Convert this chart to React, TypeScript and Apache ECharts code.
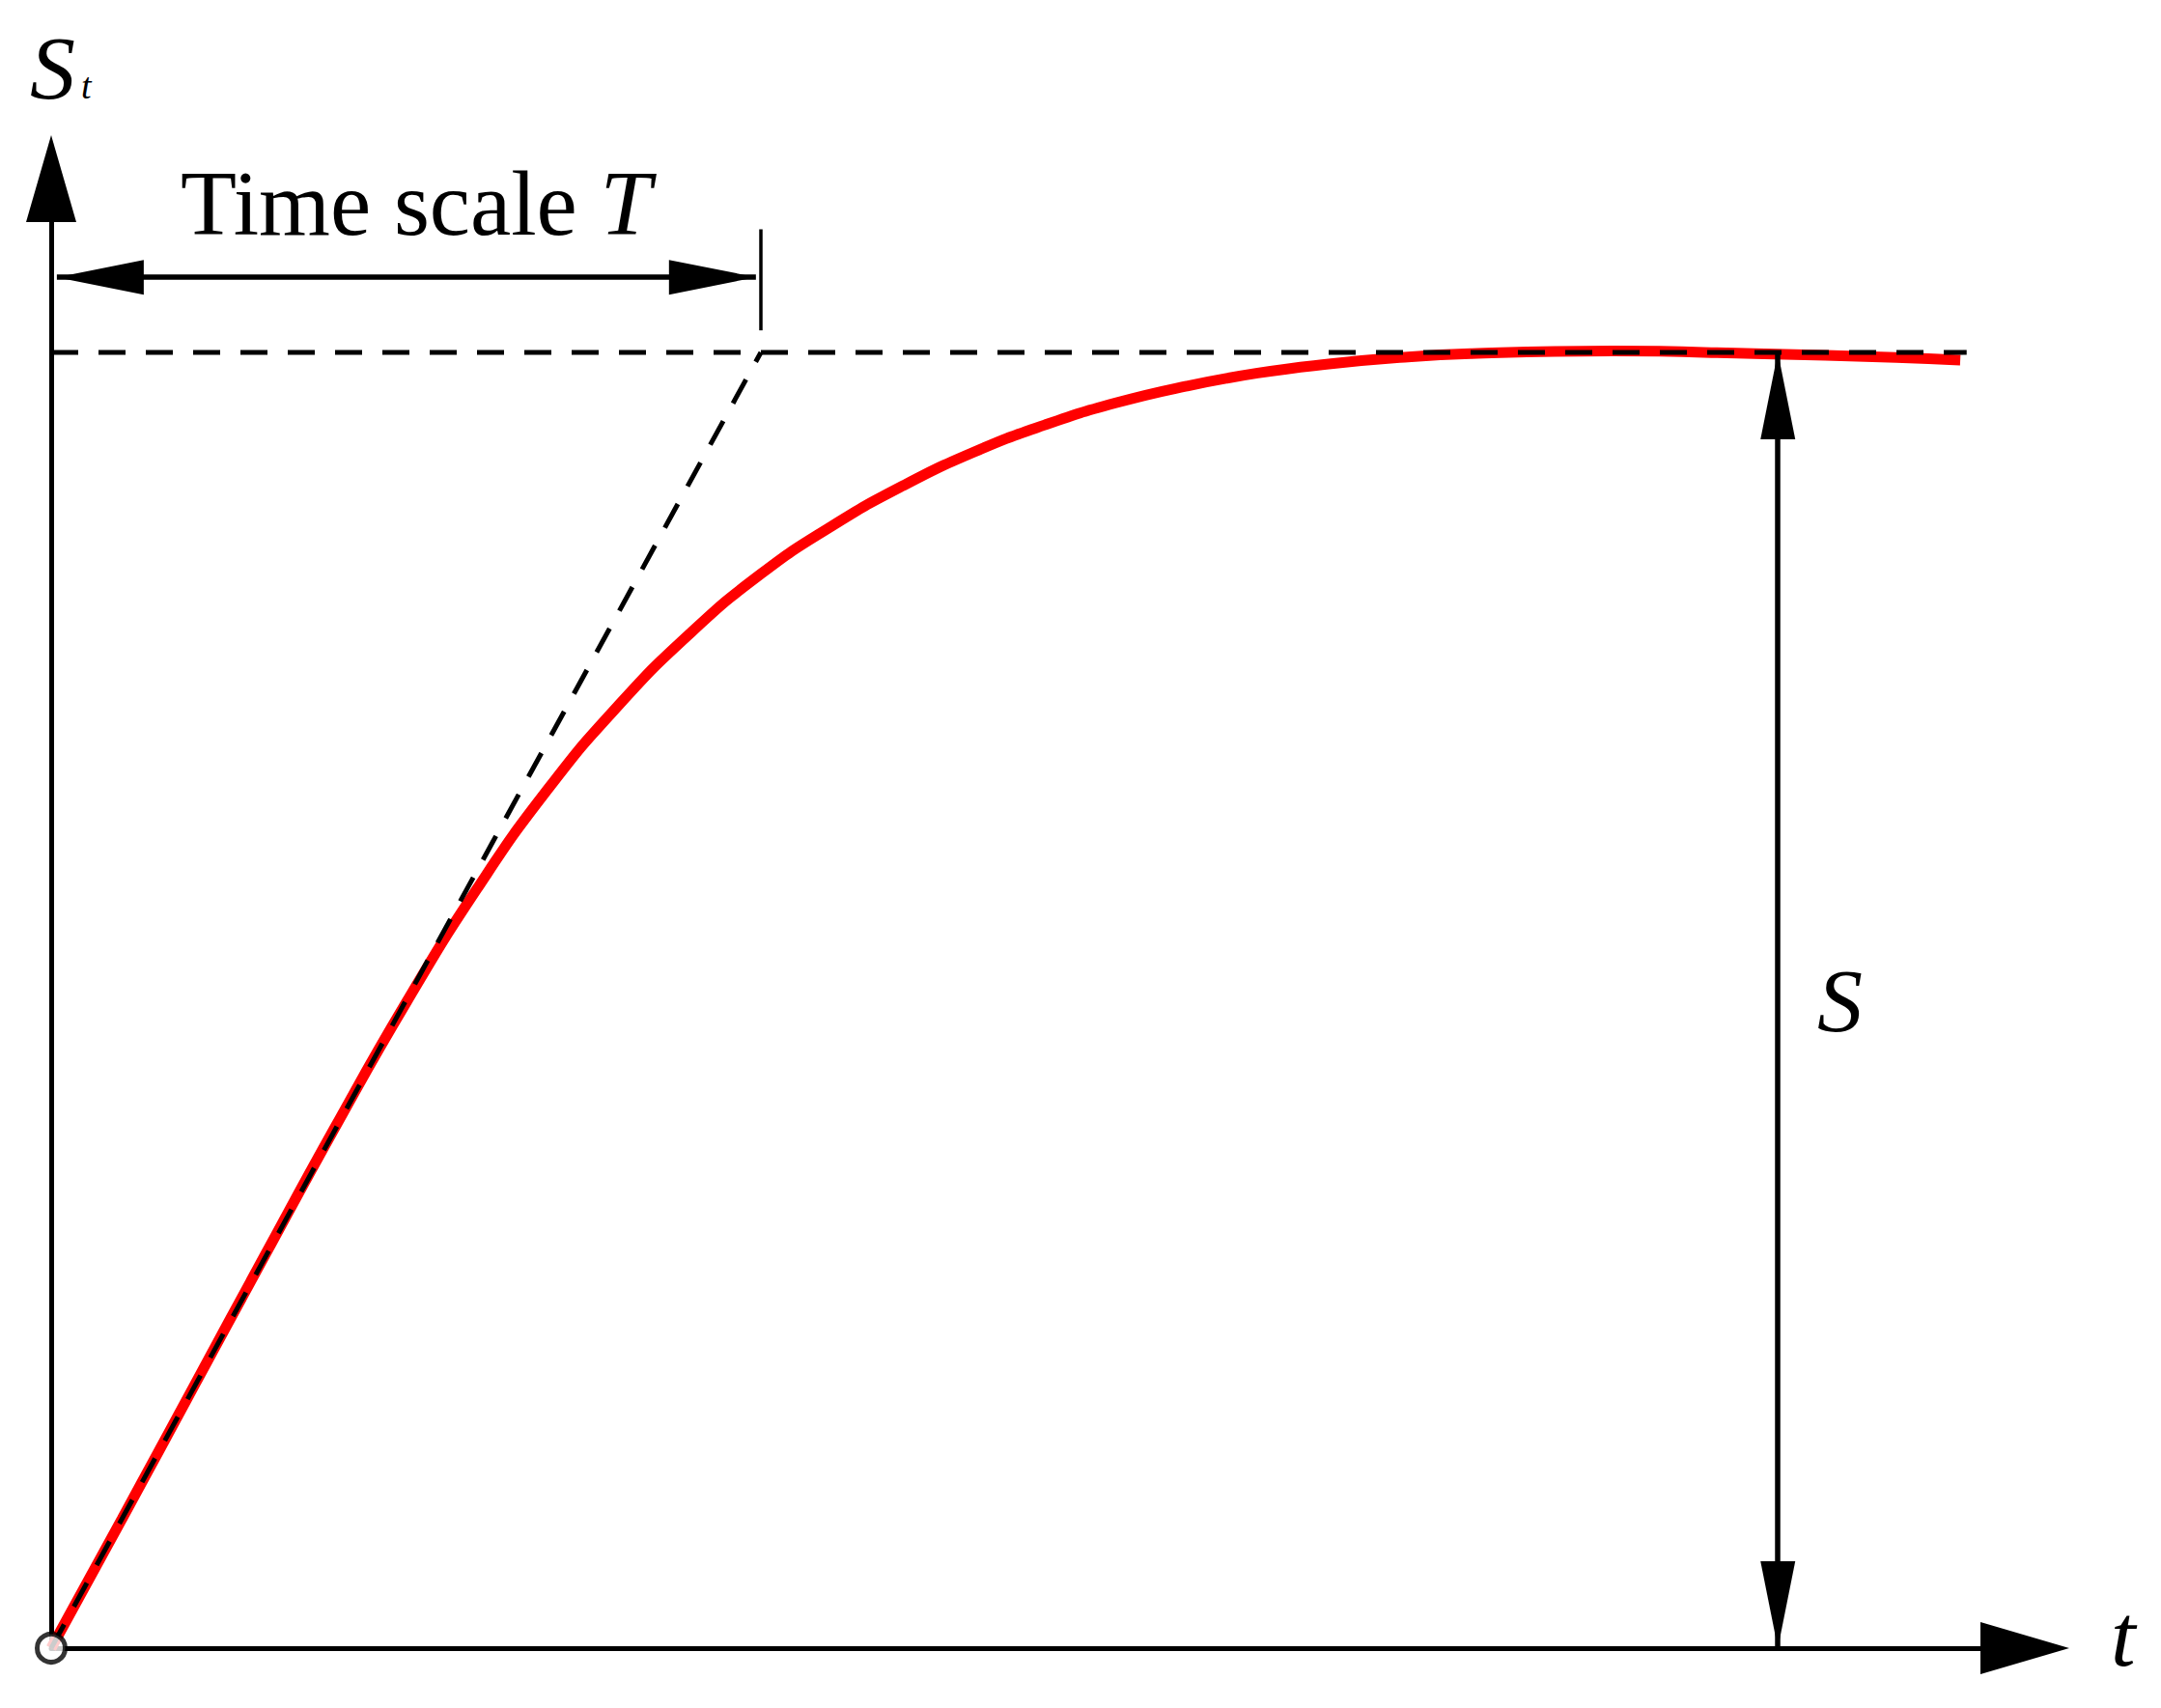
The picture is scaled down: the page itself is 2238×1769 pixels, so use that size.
import React, { useEffect, useRef } from "react";
import * as echarts from "echarts";

// Consolidation-type curve: time in units of the time scale T, value in units of the final value S
const timeValues = [0, 0.1, 0.2, 0.3, 0.4, 0.5, 0.6, 0.7, 0.8, 0.9, 1.0, 1.1, 1.2, 1.3, 1.4, 1.5, 1.6, 1.7, 1.8, 1.9, 2.0, 2.2, 2.4, 2.6, 2.69];
const curveValues = [0, 0.1, 0.201, 0.302, 0.402, 0.498, 0.586, 0.663, 0.728, 0.783, 0.829, 0.866, 0.897, 0.923, 0.944, 0.961, 0.974, 0.984, 0.991, 0.996, 0.999, 1.001, 0.999, 0.996, 0.994];

const timeScaleT = 1;
const finalValueS = 1;
const asymptoteEnd = 2.699;
const sArrowTime = 2.433;
const timeArrowLevel = 1.058;
const tickRange = [1.017, 1.095];
const timeArrowRange = [0.008, 0.993];
const xMax = 2.781;
const yMax = 1.1341;

const labelTimeScale = "Time scale ";
const labelT = "T";
const labelS = "S";
const labelSt = "S";
const labelSub = "t";
const labelX = "t";

export default function App() {
  const ref = useRef<HTMLDivElement>(null);
  useEffect(() => {
    const chart = echarts.init(ref.current!, null, { renderer: "svg" });
    const serif = '"Liberation Serif", "Times New Roman", serif';
    const mid = (baseline: number, size: number) => baseline - 0.3375 * size;
    const arrowEnd = (coord: number[]) => ({
      coord,
      symbol: "triangle",
      symbolSize: [36, 90],
      symbolOffset: [0, 45],
    });
    chart.setOption({
      animation: false,
      backgroundColor: "#ffffff",
      grid: { left: 53, right: 141, top: 185, bottom: 62, containLabel: false },
      xAxis: {
        type: "value",
        min: 0,
        max: xMax,
        axisLine: {
          show: true,
          onZero: false,
          lineStyle: { color: "#000", width: 5 },
          symbol: ["none", "triangle"],
          symbolSize: [54, 92],
        },
        axisTick: { show: false },
        axisLabel: { show: false },
        splitLine: { show: false },
      },
      yAxis: {
        type: "value",
        min: 0,
        max: yMax,
        axisLine: {
          show: true,
          onZero: false,
          lineStyle: { color: "#000", width: 5 },
          symbol: ["none", "triangle"],
          symbolSize: [52, 90],
        },
        axisTick: { show: false },
        axisLabel: { show: false },
        splitLine: { show: false },
      },
      series: [
        {
          type: "line",
          data: timeValues.map((t, i) => [t, curveValues[i]]),
          smooth: 0.5,
          showSymbol: false,
          symbol: "none",
          lineStyle: { color: "#ff0000", width: 11 },
          z: 2,
          silent: true,
        },
        {
          type: "line",
          data: [
            [0, 0],
            [timeScaleT, finalValueS],
          ],
          symbol: "none",
          lineStyle: { color: "#000", width: 5, type: [28, 21] },
          z: 3,
          silent: true,
          markLine: {
            silent: true,
            symbol: ["none", "none"],
            label: { show: false },
            lineStyle: { color: "#000", width: 3.5, type: "solid" },
            data: [[{ coord: [timeScaleT, tickRange[0]] }, { coord: [timeScaleT, tickRange[1]] }]],
          },
        },
        {
          type: "line",
          data: [
            [0, finalValueS],
            [asymptoteEnd, finalValueS],
          ],
          symbol: "none",
          lineStyle: { color: "#000", width: 5, type: [28, 21] },
          z: 3,
          silent: true,
          markLine: {
            silent: true,
            symbol: ["triangle", "triangle"],
            label: { show: false },
            lineStyle: { color: "#000", width: 5.5, type: "solid" },
            data: [
              [arrowEnd([timeArrowRange[0], timeArrowLevel]), arrowEnd([timeArrowRange[1], timeArrowLevel])],
              [arrowEnd([sArrowTime, 0]), arrowEnd([sArrowTime, finalValueS])],
            ],
          },
        },
        {
          type: "scatter",
          data: [[0, 0]],
          symbol: "circle",
          symbolSize: 29,
          itemStyle: { color: "#fff", borderColor: "#000", borderWidth: 5 },
          z: 5,
          silent: true,
        },
      ],
      graphic: [
        {
          type: "text",
          x: 31,
          y: mid(102, 94),
          style: {
            text: labelSt,
            fontFamily: serif,
            fontSize: 94,
            fontStyle: "italic",
            fill: "#000",
            align: "left",
            verticalAlign: "middle",
          },
        },
        {
          type: "text",
          x: 84,
          y: mid(102, 38),
          style: {
            text: labelSub,
            fontFamily: serif,
            fontSize: 38,
            fontStyle: "italic",
            fill: "#000",
            align: "left",
            verticalAlign: "middle",
          },
        },
        {
          type: "text",
          x: 187,
          y: mid(243, 95),
          style: {
            text: labelTimeScale + "{i|" + labelT + "}",
            fontFamily: serif,
            fontSize: 95,
            fill: "#000",
            align: "left",
            verticalAlign: "middle",
            rich: { i: { fontStyle: "italic", fontFamily: serif, fontSize: 95, fill: "#000" } },
          },
        },
        {
          type: "text",
          x: 1882,
          y: mid(1068, 94),
          style: {
            text: labelS,
            fontFamily: serif,
            fontSize: 94,
            fontStyle: "italic",
            fill: "#000",
            align: "left",
            verticalAlign: "middle",
          },
        },
        {
          type: "text",
          x: 2186,
          y: mid(1725, 92),
          style: {
            text: labelX,
            fontFamily: serif,
            fontSize: 92,
            fontStyle: "italic",
            fill: "#000",
            align: "left",
            verticalAlign: "middle",
          },
        },
      ],
    });
    return () => chart.dispose();
  }, []);
  return (
    <div
      ref={ref}
      style={{ position: "absolute", left: 0, top: 0, width: 2238, height: 1769, background: "#fff" }}
    />
  );
}
